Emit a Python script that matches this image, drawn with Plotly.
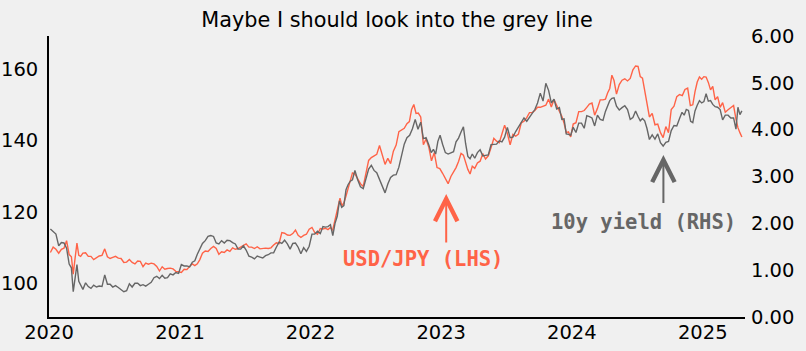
import calendar
import datetime as dt
import plotly.graph_objects as go

# ---------------- data (approx. weekly readings, grouped by month) ----------------
jpy_2020 = [
    [108.6, 110.1, 109.5, 108.4],
    [109.5, 109.8, 111.9, 108.0],
    [107.4, 102.5, 107.0, 111.2, 107.8, 107.5],
    [108.4, 108.5, 107.5, 107.5],
    [106.6, 107.1, 107.6, 107.8],
    [109.6, 107.4, 106.9, 107.2],
    [107.5, 107.0, 106.9, 105.8],
    [105.9, 106.6, 105.8, 105.4],
    [106.2, 106.1, 104.6, 105.6],
    [105.3, 105.6, 105.4, 104.7],
    [103.4, 104.6, 103.9, 104.1],
    [104.2, 104.0, 103.3, 103.2],
]
y10_2020 = [
    [1.88, 1.82, 1.77, 1.52],
    [1.59, 1.58, 1.47, 1.13],
    [1.05, 0.54, 0.82, 1.12, 0.76, 0.68],
    [0.59, 0.73, 0.65, 0.61],
    [0.68, 0.64, 0.66, 0.65],
    [0.90, 0.70, 0.70, 0.64],
    [0.67, 0.63, 0.59, 0.54],
    [0.56, 0.71, 0.64, 0.72],
    [0.72, 0.67, 0.69, 0.66],
    [0.70, 0.74, 0.84, 0.87],
    [0.82, 0.89, 0.83, 0.84],
    [0.92, 0.90, 0.95, 0.93],
]
jpy_2021 = [
    [103.0, 103.9, 103.8, 104.7],
    [105.4, 104.9, 105.4, 106.6],
    [108.4, 109.0, 108.9, 109.7],
    [110.3, 109.7, 108.1, 108.8],
    [108.6, 109.3, 108.9, 109.9],
    [109.5, 109.7, 110.2, 110.5],
    [111.0, 110.1, 110.1, 109.7],
    [110.2, 109.6, 109.8, 109.8],
    [109.7, 109.9, 110.7, 111.3],
    [111.1, 114.2, 114.0, 113.5],
    [113.4, 113.9, 114.9, 113.4],
    [112.8, 113.4, 113.7, 115.1],
]
y10_2021 = [
    [1.12, 1.09, 1.09, 1.07],
    [1.17, 1.20, 1.34, 1.44],
    [1.57, 1.63, 1.72, 1.74],
    [1.72, 1.58, 1.56, 1.63],
    [1.58, 1.64, 1.63, 1.59],
    [1.56, 1.45, 1.45, 1.52],
    [1.43, 1.30, 1.28, 1.24],
    [1.30, 1.28, 1.26, 1.31],
    [1.33, 1.37, 1.37, 1.49],
    [1.60, 1.57, 1.64, 1.56],
    [1.45, 1.57, 1.58, 1.49],
    [1.35, 1.48, 1.40, 1.51],
]
jpy_2022 = [
    [115.6, 114.2, 113.7, 115.3],
    [115.2, 115.4, 115.0, 115.6],
    [114.8, 117.3, 119.2, 122.0, 123.8, 121.7],
    [122.5, 124.4, 126.4, 128.5, 130.9],
    [130.6, 129.2, 127.9, 127.1],
    [130.8, 134.4, 135.2, 135.7],
    [136.1, 138.6, 136.1, 133.3],
    [135.0, 133.5, 137.0, 138.7],
    [142.5, 142.9, 143.4, 144.7],
    [145.3, 148.7, 150.1, 147.6, 147.7],
    [146.6, 138.8, 140.4, 138.2],
    [134.3, 136.6, 132.4, 132.1],
]
y10_2022 = [
    [1.77, 1.77, 1.83, 1.78],
    [1.93, 1.92, 1.93, 1.97],
    [1.74, 2.00, 2.15, 2.48, 2.34],
    [2.38, 2.72, 2.83, 2.90, 2.93],
    [3.13, 2.93, 2.78, 2.74],
    [2.96, 3.16, 3.24, 3.13],
    [3.08, 2.93, 2.78, 2.65],
    [2.84, 2.98, 3.03, 3.04],
    [3.20, 3.45, 3.69, 3.83],
    [3.88, 4.02, 4.22, 4.01],
    [4.16, 3.81, 3.83, 3.68],
    [3.51, 3.58, 3.48, 3.75, 3.88],
]
jpy_2023 = [
    [130.8, 129.2, 127.9, 129.9],
    [131.2, 132.4, 134.1, 136.4],
    [135.9, 133.9, 131.9, 130.6, 132.8],
    [132.2, 133.7, 134.2, 136.3],
    [134.8, 135.7, 138.0, 140.6],
    [139.8, 139.4, 141.8, 144.3],
    [142.0, 138.8, 141.7, 141.2],
    [141.8, 144.9, 145.4, 146.4],
    [147.8, 147.8, 148.4, 149.3],
    [149.3, 149.6, 149.9, 151.6],
    [149.4, 151.5, 149.6, 148.2],
    [146.8, 144.9, 142.2, 142.4, 141.0],
]
y10_2023 = [
    [3.69, 3.51, 3.48, 3.51],
    [3.53, 3.74, 3.82, 3.95],
    [4.06, 3.70, 3.43, 3.38, 3.48],
    [3.39, 3.51, 3.57, 3.44],
    [3.45, 3.46, 3.68, 3.69],
    [3.69, 3.76, 3.74, 3.84],
    [4.05, 3.83, 3.84, 3.96],
    [4.05, 4.15, 4.25, 4.18],
    [4.26, 4.33, 4.43, 4.57],
    [4.78, 4.61, 4.99, 4.84],
    [4.57, 4.65, 4.44, 4.47],
    [4.22, 4.23, 3.91, 3.90, 3.88],
]
jpy_2024 = [
    [144.6, 145.0, 148.1, 148.1],
    [148.4, 149.3, 150.2, 150.5],
    [147.1, 149.0, 151.4, 151.4],
    [151.6, 153.3, 154.6, 158.3, 156.8],
    [153.0, 155.7, 156.9, 157.3],
    [156.7, 157.4, 159.8, 160.9],
    [160.8, 157.9, 157.5, 153.8, 150.0],
    [146.6, 147.6, 144.4, 144.6],
    [142.2, 140.8, 143.9, 142.2],
    [148.7, 149.6, 152.3, 152.9],
    [152.6, 154.3, 154.7, 149.8],
    [150.0, 153.7, 156.4, 157.8, 157.2],
]
y10_2024 = [
    [4.05, 3.94, 4.14, 4.14],
    [4.03, 4.30, 4.28, 4.25],
    [4.08, 4.31, 4.22, 4.20],
    [4.39, 4.50, 4.62, 4.67, 4.68],
    [4.50, 4.42, 4.47, 4.51],
    [4.43, 4.22, 4.26, 4.40],
    [4.28, 4.19, 4.24, 4.19, 4.03],
    [3.79, 3.89, 3.80, 3.91],
    [3.72, 3.65, 3.73, 3.75],
    [3.98, 4.09, 4.08, 4.24],
    [4.37, 4.31, 4.43, 4.41, 4.18],
    [4.15, 4.40, 4.52, 4.62, 4.57],
]
jpy_2025 = [
    [157.9, 157.8, 156.3, 154.2, 155.2],
    [151.4, 152.3, 149.3, 150.6],
    [147.9, 148.6, 149.3, 149.8],
    [146.0, 143.6, 142.2, 141.0],
]
y10_2025 = [
    [4.60, 4.77, 4.61, 4.62, 4.54],
    [4.49, 4.48, 4.43, 4.21],
    [4.31, 4.31, 4.25, 4.25],
    [4.01, 4.48, 4.32, 4.40],
]
LAST_DAY = dt.date(2025, 4, 22)   # data ends here

years = [2020, 2021, 2022, 2023, 2024, 2025]
jpy_by_year = [jpy_2020, jpy_2021, jpy_2022, jpy_2023, jpy_2024, jpy_2025]
y10_by_year = [y10_2020, y10_2021, y10_2022, y10_2023, y10_2024, y10_2025]

tick_dates = ["2020-01-01", "2021-01-01", "2022-01-01", "2023-01-01", "2024-01-01", "2025-01-01"]
tick_labels = ["2020", "2021", "2022", "2023", "2024", "2025"]
left_ticks = [100, 120, 140, 160]
right_ticks = [0, 1, 2, 3, 4, 5, 6]


def expand(year_blocks):
    dates, vals = [], []
    for yr, blocks in zip(years, year_blocks):
        for m, block in enumerate(blocks, start=1):
            start = dt.datetime(yr, m, 1)
            ndays = calendar.monthrange(yr, m)[1]
            if yr == LAST_DAY.year and m == LAST_DAY.month:
                ndays = LAST_DAY.day
            n = len(block)
            for i, v in enumerate(block):
                dates.append(start + dt.timedelta(days=(i + 0.5) * ndays / n))
                vals.append(v)
    return dates, vals


jd, jv = expand(jpy_by_year)
yd, yv = expand(y10_by_year)

ORANGE = "#ff6347"
GREY = "#666666"
BG = "#f0f0f0"

fig = go.Figure()
fig.add_trace(go.Scatter(x=jd, y=jv, mode="lines", line=dict(color=ORANGE, width=1.4),
                         name="USD/JPY", yaxis="y"))
fig.add_trace(go.Scatter(x=yd, y=yv, mode="lines", line=dict(color=GREY, width=1.4),
                         name="10y yield", yaxis="y2"))

tickfont = dict(family="DejaVu Sans", size=19.5, color="black")
monofont = "DejaVu Sans Mono"

fig.update_layout(
    width=806, height=351,
    margin=dict(l=49, r=61, t=36, b=34),
    paper_bgcolor=BG, plot_bgcolor=BG,
    showlegend=False,
    title=dict(text="Maybe I should look into the grey line", x=0.4926, xanchor="center",
               y=0.945, yanchor="middle",
               font=dict(family="DejaVu Sans", size=20.8, color="black")),
    xaxis=dict(type="date", range=["2020-01-01", "2025-04-29"],
               tickvals=tick_dates, ticktext=tick_labels, automargin=False,
               showgrid=False, zeroline=False, showline=True, linecolor="black", linewidth=1.7,
               ticks="", tickfont=tickfont, ticklabelstandoff=-3),
    yaxis=dict(range=[90.5, 169.3], tickvals=left_ticks, showgrid=False, zeroline=False,
               automargin=False,
               showline=True, linecolor="black", linewidth=1.7, ticks="", tickfont=tickfont,
               ticklabelstandoff=5),
    yaxis2=dict(range=[0, 6], tickvals=right_ticks, tickformat=".2f", overlaying="y",
                side="right", showgrid=False, zeroline=False, showline=False, ticks="",
                automargin=False, tickfont=tickfont, ticklabelstandoff=5),
)

# arrows
fig.add_annotation(x="2023-01-15", y=125.0, ax="2023-01-15", ay=111.0, xref="x", yref="y",
                   axref="x", ayref="y", text="", showarrow=True, arrowhead=5,
                   arrowsize=2.2, arrowwidth=2, arrowcolor=ORANGE)
fig.add_annotation(x="2024-09-13", y=3.46, ax="2024-09-13", ay=2.40, xref="x", yref="y2",
                   axref="x", ayref="y2", text="", showarrow=True, arrowhead=5,
                   arrowsize=2.2, arrowwidth=2, arrowcolor=GREY)
# labels
fig.add_annotation(x="2022-11-12", y=106.8, xref="x", yref="y", text="<b>USD/JPY (LHS)</b>",
                   showarrow=False, font=dict(family=monofont, size=20.5, color=ORANGE))
fig.add_annotation(x="2024-07-19", y=2.03, xref="x", yref="y2", text="<b>10y yield (RHS)</b>",
                   showarrow=False, font=dict(family=monofont, size=20.5, color=GREY))

fig.write_html("out.html")
